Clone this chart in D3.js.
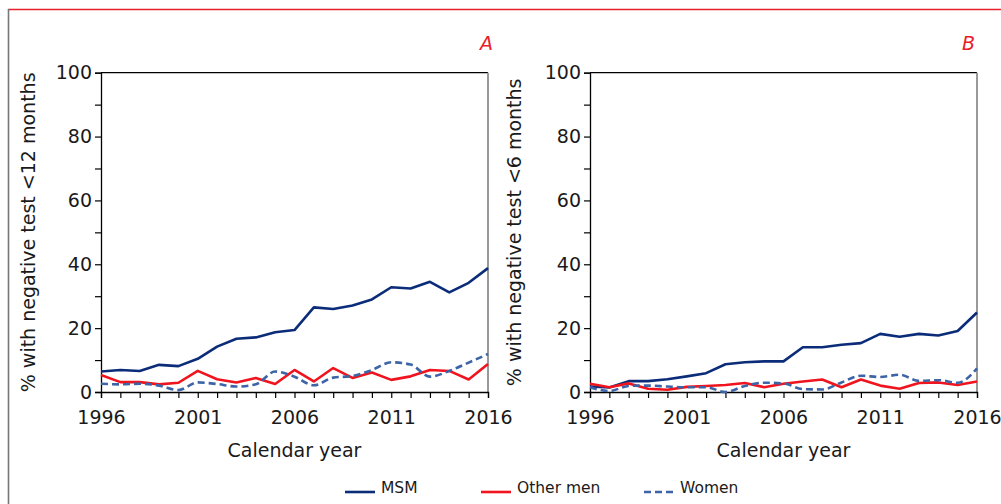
<html>
  <head>
    <script src="https://d3js.org/d3.v7.min.js"></script>
    <style>
      body { margin: 0; background: #fff; }
      text { font-family: Verdana, "DejaVu Sans", sans-serif; fill: #1a1a1a; }
    </style>
  </head>
  <body>
    <script>
      // data (% per calendar year)
      var years = d3.range(1996, 2017);
      var xTicks = [1996, 2001, 2006, 2011, 2016];
      var yTicks = [0, 20, 40, 60, 80, 100];

      var msmA = [6.4, 6.9, 6.6, 8.5, 8.1, 10.4, 14.2, 16.7, 17.1, 18.7, 19.4, 26.5, 26.0, 27.1, 29.0, 32.8, 32.4, 34.5, 31.2, 34.2, 38.8];
      var otherA = [5.3, 3.1, 3.1, 2.4, 2.9, 6.6, 4.0, 3.0, 4.4, 2.5, 6.9, 3.3, 7.5, 4.4, 6.1, 3.8, 4.9, 6.9, 6.6, 3.9, 8.8];
      var womenA = [2.6, 2.4, 2.6, 2.0, 0.6, 3.0, 2.5, 1.7, 2.4, 6.4, 4.8, 2.1, 4.5, 5.0, 6.9, 9.3, 8.6, 4.8, 6.6, 9.2, 11.9];

      var msmB = [1.7, 1.4, 3.4, 3.4, 4.0, 4.9, 5.9, 8.7, 9.3, 9.6, 9.6, 14.0, 14.0, 14.8, 15.3, 18.2, 17.3, 18.2, 17.7, 19.1, 24.9];
      var otherB = [2.6, 1.5, 2.7, 1.0, 0.7, 1.6, 1.9, 2.2, 2.8, 1.5, 2.6, 3.3, 3.9, 1.5, 3.9, 2.0, 1.0, 2.8, 3.0, 2.2, 3.3];
      var womenB = [1.5, 0.3, 1.9, 2.0, 1.7, 1.5, 1.5, 0.0, 1.9, 2.9, 2.7, 0.9, 0.8, 3.0, 5.1, 4.7, 5.4, 3.5, 3.7, 2.9, 7.4];

      var seriesNames = ["MSM", "Other men", "Women"];
      var colors = { "MSM": "#0b2c78", "Other men": "#f0141e", "Women": "#3d64a6" };

      var width = 1001, height = 504;
      var svg = d3.select("body").append("svg")
          .attr("width", width)
          .attr("height", height);

      // outer frame: red top rule, grey left rule
      svg.append("line").attr("x1", 8).attr("x2", width).attr("y1", 9.5).attr("y2", 9.5)
          .attr("stroke", "#e8202a").attr("stroke-width", 1.3);
      svg.append("line").attr("x1", 8.5).attr("x2", 8.5).attr("y1", 9).attr("y2", height)
          .attr("stroke", "#777").attr("stroke-width", 1.6);

      var panels = [
        { left: 101, right: 488, letter: "A", letterX: 493, label: "% with negative test <12 months", labelX: 35,
          series: { "MSM": msmA, "Other men": otherA, "Women": womenA } },
        { left: 590, right: 977, letter: "B", letterX: 975, label: "% with negative test <6 months", labelX: 521,
          series: { "MSM": msmB, "Other men": otherB, "Women": womenB } }
      ];

      var plotTop = 72.7, plotBottom = 392;

      panels.forEach(function (p) {
        var x = d3.scaleLinear().domain([1996, 2016]).range([p.left, p.right]);
        var y = d3.scaleLinear().domain([0, 100]).range([plotBottom, plotTop]);
        var g = svg.append("g");

        // top and right border of the plot
        g.append("line").attr("x1", p.left).attr("x2", p.right).attr("y1", plotTop).attr("y2", plotTop)
            .attr("stroke", "#000").attr("stroke-width", 1.3);
        g.append("line").attr("x1", p.right).attr("x2", p.right).attr("y1", plotTop).attr("y2", plotBottom)
            .attr("stroke", "#999").attr("stroke-width", 2);

        // y axis
        var yAxis = g.append("g")
            .attr("transform", "translate(" + p.left + ",0)")
            .call(d3.axisLeft(y).tickValues(d3.range(0, 101, 10)).tickSize(6).tickPadding(3)
              .tickFormat(function (d) { return yTicks.indexOf(d) >= 0 ? d : ""; }));
        yAxis.select(".domain").attr("stroke-width", 1.3);
        yAxis.selectAll(".tick line").attr("stroke-width", 1.2);
        yAxis.selectAll("text").attr("font-size", 19).attr("fill", "#1a1a1a")
            .style("font-family", "Verdana, 'DejaVu Sans', sans-serif");

        // x axis
        var xAxis = g.append("g")
            .attr("transform", "translate(0," + plotBottom + ")")
            .call(d3.axisBottom(x).tickValues(years).tickSize(6).tickPadding(13)
              .tickFormat(function (d) { return xTicks.indexOf(d) >= 0 ? d : ""; }));
        xAxis.select(".domain").attr("stroke-width", 1.3);
        xAxis.selectAll(".tick line").attr("stroke-width", 1.2);
        xAxis.selectAll("text").attr("font-size", 19).attr("fill", "#1a1a1a")
            .style("font-family", "Verdana, 'DejaVu Sans', sans-serif");

        // series lines
        seriesNames.forEach(function (name) {
          var line = d3.line()
              .x(function (d, i) { return x(years[i]); })
              .y(function (d) { return y(d); });
          if (name === "Women") line.curve(d3.curveMonotoneX);
          g.append("path")
              .datum(p.series[name])
              .attr("fill", "none")
              .attr("stroke", colors[name])
              .attr("stroke-width", 2.6)
              .attr("stroke-linejoin", "round")
              .attr("stroke-dasharray", name === "Women" ? "7,4" : null)
              .attr("d", line);
        });

        // panel letter
        g.append("text")
            .attr("x", p.letterX).attr("y", 50)
            .attr("text-anchor", "end")
            .attr("font-size", 19)
            .attr("font-style", "italic")
            .style("fill", "#e8202a")
            .text(p.letter);

        // axis titles
        g.append("text")
            .attr("x", (p.left + p.right) / 2).attr("y", 457)
            .attr("text-anchor", "middle")
            .attr("font-size", 19)
            .text("Calendar year");

        g.append("text")
            .attr("transform", "translate(" + p.labelX + "," + ((plotTop + plotBottom) / 2) + ") rotate(-90)")
            .attr("text-anchor", "middle")
            .attr("font-size", 19)
            .text(p.label);
      });

      // legend
      var legendX = [345, 481, 644];
      var legend = svg.append("g");
      seriesNames.forEach(function (name, i) {
        legend.append("line")
            .attr("x1", legendX[i]).attr("x2", legendX[i] + 30)
            .attr("y1", 492).attr("y2", 492)
            .attr("stroke", colors[name])
            .attr("stroke-width", 2.6)
            .attr("stroke-dasharray", name === "Women" ? "7,4" : null);
        legend.append("text")
            .attr("x", legendX[i] + 36).attr("y", 493)
            .attr("font-size", 15.5)
            .text(name);
      });
    </script>
  </body>
</html>
